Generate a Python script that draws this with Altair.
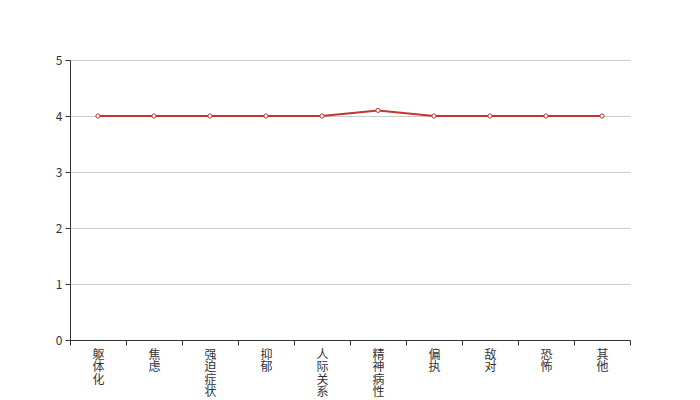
import altair as alt
import pandas as pd

categories = ["躯体化", "焦虑", "强迫症状", "抑郁", "人际关系", "精神病性", "偏执", "敌对", "恐怖", "其他"]
values = [4, 4, 4, 4, 4, 4.1, 4, 4, 4, 4]

df = pd.DataFrame({"cat": categories, "val": values})

FONT = "Noto Sans CJK SC"
RED = "#c23531"

x = alt.X("cat:N", sort=categories, title=None,
          scale=alt.Scale(paddingInner=0, paddingOuter=0),
          axis=alt.Axis(labelAngle=0, labelExpr="split(datum.label, '')",
                        labelLineHeight=12.5, labelBaseline="top", labelAlign="center",
                        tickBand="extent", tickSize=5, labelPadding=4,
                        domainColor="#333", tickColor="#333", labelColor="#333",
                        labelFont=FONT, labelFontSize=12, grid=False))
y = alt.Y("val:Q", title=None,
          scale=alt.Scale(domain=[0, 5], nice=False),
          axis=alt.Axis(values=[0, 1, 2, 3, 4, 5], tickSize=5, labelPadding=3,
                        domainColor="#333", tickColor="#333", labelColor="#333",
                        labelFont=FONT, labelFontSize=12, gridColor="#ccc", grid=True))

base = alt.Chart(df)
line = base.mark_line(color=RED, strokeWidth=2).encode(x=x, y=y)
pts = base.mark_point(shape="circle", filled=True, fill="white", stroke=RED,
                      strokeWidth=1, size=18, opacity=1).encode(x=x, y=y)

chart = (line + pts).properties(
    width=560, height=280,
    autosize=alt.AutoSizeParams(type="none"),
    padding={"left": 62, "top": 52, "right": 62, "bottom": 60},
).configure_view(stroke=None)

chart.save("out.html", embed_options={"renderer": "svg", "actions": False})
